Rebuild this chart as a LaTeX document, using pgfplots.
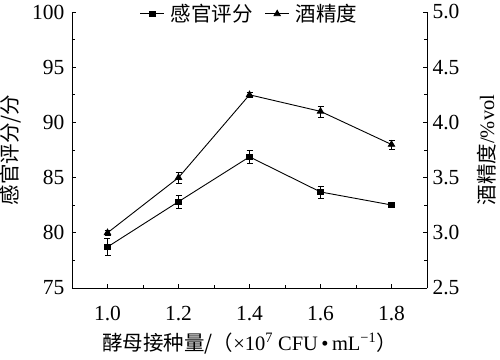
\documentclass[border=0pt]{standalone}
\usepackage{pgfplots}
\pgfplotsset{compat=1.18}
\usetikzlibrary{calc}
\usepackage{fontspec}
\setmainfont{Liberation Serif}
\newfontfamily\tnr{Liberation Serif}
\newfontfamily\cjk{Noto Sans CJK SC}
\begin{document}
\begin{tikzpicture}
\pgfplotsset{
  every axis/.append style={
    scale only axis, width=355pt, height=276pt,
    xmin=0.9, xmax=1.9,
    tick align=inside,
    major tick length=4.5pt, minor tick length=3pt,
    every tick/.style={black, line width=0.7pt},
    axis line style={black, line width=0.8pt},
    tick label style={font=\tnr\fontsize{21.5}{25}\selectfont},
    label style={font=\fontsize{20.5}{24}\selectfont},
    /pgf/number format/assume math mode=true,
    /pgf/number format/fixed,
  },
}
\begin{axis}[
  axis x line*=bottom, axis y line*=left,
  ymin=75, ymax=100, ytick={75,80,...,100},
  minor y tick num=1,
  xtick={1.0,1.2,1.4,1.6,1.8},
  xticklabels={1.0,1.2,1.4,1.6,1.8},
  minor x tick num=1,
  xticklabel style={yshift=-15pt},
  yticklabel style={xshift=-4pt},
  xlabel={{\cjk 酵母接种量/（}×10\textsuperscript{7} CFU\,•\,mL\textsuperscript{−1}{\cjk ）}},
  xlabel style={at={(axis description cs:0.5,-0.2)}, anchor=center},
  ylabel={\cjk 感官评分/分},
  ylabel style={at={(axis description cs:-0.172,0.5)}, anchor=center},
  legend columns=2,
  legend style={draw=none, fill=none, at={(axis description cs:0.5,0.993)}, anchor=center,
    font=\fontsize{20.5}{24}\selectfont, column sep=4pt,
    /tikz/every even column/.append style={column sep=10pt}},
  legend image code/.code={\draw[mark repeat=2,mark phase=2] plot coordinates {(0pt,0pt)(12pt,0pt)(24pt,0pt)};},
]
\addplot[black, line width=0.9pt, mark=square*, mark size=2.7pt,
  error bars/.cd, y dir=both, y explicit,
  error bar style={black, line width=0.6pt},
  error mark options={rotate=90, mark size=3pt, black, line width=0.6pt}]
  coordinates {
  (1.0,78.72) +- (0,0.8)
  (1.2,82.82) +- (0,0.62)
  (1.4,86.88) +- (0,0.6)
  (1.6,83.7) +- (0,0.55)
  (1.8,82.52) +- (0,0.25)
  };
\addlegendentry{\cjk 感官评分}
\addlegendimage{black, line width=0.9pt, mark=triangle*, mark size=3.6pt}
\addlegendentry{\cjk 酒精度}
\coordinate (ll) at (rel axis cs:0,0);
\end{axis}
\begin{axis}[
  axis x line=none, axis y line*=right,
  ymin=2.5, ymax=5.0, ytick={2.5,3.0,...,5.0},
  yticklabel style={xshift=2pt, /pgf/number format/precision=1, /pgf/number format/fixed zerofill},
  minor y tick num=1,
  ylabel={{\cjk 酒精度}/\%vol},
  ylabel style={at={(axis description cs:1.167,0.5)}, anchor=center, rotate=0},
]
\addplot[black, line width=0.9pt, mark=triangle*, mark size=3.6pt,
  error bars/.cd, y dir=both, y explicit,
  error bar style={black, line width=0.6pt},
  error mark options={rotate=90, mark size=3pt, black, line width=0.6pt}]
  coordinates {
  (1.0,3.0) +- (0,0.02)
  (1.2,3.5) +- (0,0.05)
  (1.4,4.25) +- (0,0.02)
  (1.6,4.1) +- (0,0.05)
  (1.8,3.8) +- (0,0.04)
  };
\end{axis}
\pgfresetboundingbox
\path[use as bounding box] ($(ll)+(-72pt,-71pt)$) rectangle ++(500pt,359pt);
\end{tikzpicture}
\end{document}
